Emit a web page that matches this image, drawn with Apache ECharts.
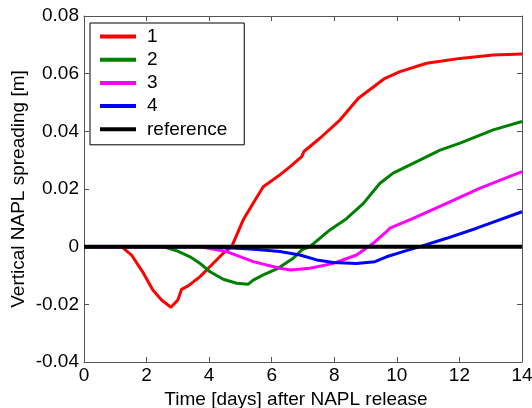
<!DOCTYPE html>
<html>
<head>
<meta charset="utf-8">
<script src="https://cdn.jsdelivr.net/npm/echarts@6/dist/echarts.min.js"></script>
<style>
  html, body { margin: 0; padding: 0; background: #fff; }
  #chart { width: 532px; height: 408px; }
</style>
</head>
<body>
<div id="chart"></div>
<script>
// time in days, spreading in m
const days1 = [0, 1.2, 1.52, 1.9, 2.2, 2.48, 2.78, 3.0, 3.12, 3.33, 3.71, 4.03, 4.45, 4.72, 5.09, 5.47, 5.73, 6.26, 6.58, 6.96, 7.03, 7.54, 8.18, 8.77, 9.62, 10.1, 10.95, 12.02, 13.08, 14];
const vals1 = [0, 0, -0.0029, -0.0092, -0.015, -0.0185, -0.021, -0.0185, -0.0148, -0.0136, -0.0104, -0.0069, -0.0023, 0, 0.0093, 0.0162, 0.0208, 0.0249, 0.0277, 0.0312, 0.033, 0.0376, 0.0439, 0.0515, 0.0584, 0.0607, 0.0636, 0.0653, 0.0665, 0.0668];

const days2 = [0, 2.53, 2.96, 3.39, 3.71, 4.03, 4.45, 4.88, 5.25, 5.41, 5.73, 6.2, 6.69, 6.96, 7.22, 7.86, 8.4, 8.93, 9.46, 9.88, 10.52, 11.38, 12.02, 13.08, 14];
const vals2 = [0, 0, -0.0014, -0.0035, -0.0058, -0.0087, -0.0113, -0.0127, -0.013, -0.0116, -0.0098, -0.0075, -0.004, -0.0011, 0, 0.0058, 0.0098, 0.015, 0.022, 0.0255, 0.0289, 0.0335, 0.0359, 0.0405, 0.0434];

const days3 = [0, 3.71, 4.56, 5.41, 6.26, 6.6, 7.22, 7.97, 8.71, 9.25, 9.67, 9.78, 10.52, 11.59, 12.66, 14];
const vals3 = [0, 0, -0.0017, -0.0052, -0.0075, -0.0081, -0.0075, -0.0058, -0.0029, 0.0012, 0.0052, 0.0064, 0.0098, 0.015, 0.0203, 0.026];

const days4 = [0, 4.0, 5.3, 5.62, 6.26, 6.9, 7.44, 7.97, 8.71, 9.3, 9.67, 10.2, 10.74, 11.59, 12.55, 14];
const vals4 = [0, 0, -0.0008, -0.0011, -0.0017, -0.0029, -0.0046, -0.0055, -0.0058, -0.0052, -0.0035, -0.0017, 0, 0.0029, 0.0064, 0.0121];

const daysRef = [0, 14];
const valsRef = [0, 0];

const seriesNames = ['1', '2', '3', '4', 'reference'];
const seriesColors = ['#ff0000', '#008000', '#ff00ff', '#0000ff', '#000000'];

const xTicks = [0, 2, 4, 6, 8, 10, 12, 14];
const yTicks = [-0.04, -0.02, 0, 0.02, 0.04, 0.06, 0.08];

function pairs(xs, ys) {
  return xs.map((x, i) => [x, ys[i]]);
}

const allData = [
  pairs(days1, vals1),
  pairs(days2, vals2),
  pairs(days3, vals3),
  pairs(days4, vals4),
  pairs(daysRef, valsRef),
];

const axisColor = '#555';
const font = 'Arial, "Liberation Sans", Helvetica, sans-serif';
const fs = 19;

const chart = echarts.init(document.getElementById('chart'), null, { renderer: 'canvas' });

// box-style axes like matlab: ticks inside on all four sides
function boxAxis(pos, min, max, step) {
  return {
    type: 'value',
    position: pos,
    min: min, max: max, interval: step,
    axisLine: { show: true, onZero: false, lineStyle: { color: axisColor, width: 1 } },
    axisTick: { show: true, inside: true, length: 5, lineStyle: { color: axisColor } },
    axisLabel: { show: false },
    splitLine: { show: false },
  };
}

const option = {
  animation: false,
  backgroundColor: '#fff',
  grid: { left: 84, right: 10, top: 16, bottom: 46, outerBoundsMode: 'none' },
  legend: {
    data: seriesNames.map(n => ({ name: n, icon: 'rect' })),
    orient: 'vertical',
    left: 90,
    top: 23,
    backgroundColor: '#fff',
    borderColor: '#000',
    borderWidth: 1,
    borderRadius: 0,
    padding: [4, 17, 6, 10],
    itemWidth: 36,
    itemHeight: 4,
    itemGap: 4.2,
    textStyle: { fontSize: fs, fontFamily: font, color: '#000', lineHeight: 18, padding: [0, 0, 0, 6] },
  },
  xAxis: [
    Object.assign(boxAxis('bottom', 0, 14, 2), {
      name: 'Time [days] after NAPL release',
      nameLocation: 'middle',
      nameGap: 26,
      nameTextStyle: { fontSize: fs, fontFamily: font, color: '#000', padding: [0, 14, 0, 0] },
      axisLabel: {
        margin: 4, fontSize: fs, fontFamily: font, color: '#000',
        formatter: v => (xTicks.includes(v) ? String(v) : ''),
      },
    }),
    boxAxis('top', 0, 14, 2),
  ],
  yAxis: [
    Object.assign(boxAxis('left', -0.04, 0.08, 0.02), {
      name: 'Vertical NAPL spreading [m]',
      nameLocation: 'middle',
      nameGap: 56,
      nameMoveOverlap: false,
      nameTextStyle: { fontSize: fs, fontFamily: font, color: '#000' },
      axisLabel: {
        margin: 5, fontSize: fs, fontFamily: font, color: '#000',
        formatter: v => {
          const t = yTicks.find(y => Math.abs(y - v) < 1e-9);
          if (t === undefined) return '';
          return Math.abs(t) < 1e-9 ? '0' : t.toFixed(2);
        },
      },
    }),
    boxAxis('right', -0.04, 0.08, 0.02),
  ],
  series: seriesNames.map((name, i) => ({
    name: name,
    type: 'line',
    data: allData[i],
    showSymbol: false,
    symbol: 'none',
    itemStyle: { color: seriesColors[i] },
    lineStyle: { color: seriesColors[i], width: i === 4 ? 4 : 3 },
    z: i === 4 ? 5 : 3,
  })),
};

chart.setOption(option);
</script>
</body>
</html>
